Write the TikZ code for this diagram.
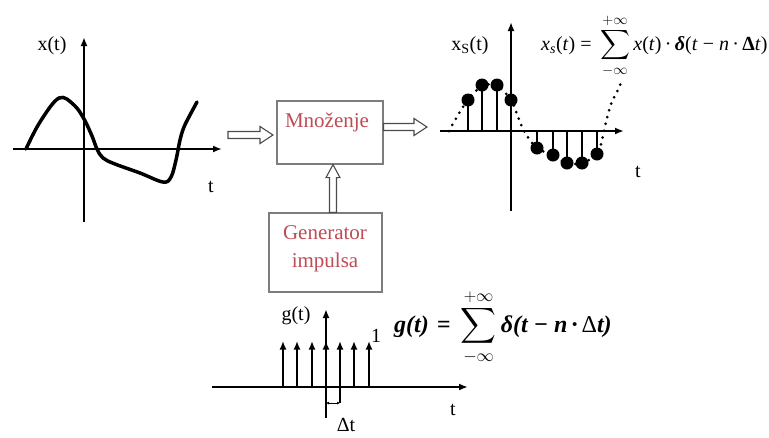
\documentclass[tikz,border=0pt]{standalone}
\usepackage{amsmath,bm}
\usepackage{fontspec}
\setmainfont{Liberation Serif}
\usetikzlibrary{arrows.meta,calc}
\definecolor{boxred}{RGB}{190,75,85}
\definecolor{boxgray}{RGB}{125,125,125}
\begin{document}
\begin{tikzpicture}[x=1pt,y=-1pt,
  axis/.style={line width=2.4pt,-{Latex[length=9pt,width=7pt]}},
  lbl/.style={font=\fontsize{20}{22}\selectfont, inner sep=0pt},
  blk/.style={draw=boxgray,line width=1.3pt},
  blktxt/.style={text=boxred, font=\fontsize{21}{28}\selectfont, align=center, inner sep=0pt},
  hollow/.style={draw=black!70,line width=1.1pt,fill=white},
  curve/.style={line width=3.5pt,line cap=round,line join=round},
  stem/.style={line width=2.6pt},
  sdot/.style={circle,fill=black,inner sep=0pt,minimum size=13pt},
  imp/.style={line width=2.2pt,-{Latex[length=8.5pt,width=7pt]}},
  dotline/.style={line width=3pt,line cap=round,dash pattern=on 0pt off 7pt},
  formula/.style={inner sep=0pt,anchor=west}
]
\useasboundingbox (0,0) rectangle (769,437);

% ---------- left graph x(t)
\coordinate (a1w) at (13,149);
\coordinate (a1e) at (222,149);
\coordinate (a1s) at (84,222);
\coordinate (a1n) at (84,37);
\draw[axis] (a1w) -- (a1e);
\draw[axis] (a1s) -- (a1n);
\node[lbl] (xlab) at (52,46) {x(t)};
\node[lbl] (tlab1) at (211,187) {t};
\draw[curve] plot[smooth,tension=0.6] coordinates {(26,149) (40,122) (59,98) (74,105) (84,119) (92,136) (97,149) (103,158) (115,164) (140,173) (163,182) (171,177) (176,160) (180,140) (184,127) (190,115) (197,102)};

% ---------- blocks
\node[blk,minimum width=106pt,minimum height=63pt] (mult) at (330,132.5) {};
\node[blktxt] (multtxt) at (327,122) {Množenje};
\node[blk,minimum width=113pt,minimum height=79pt] (gen) at (325.5,252.5) {};
\node[blktxt] (gentxt) at (325,249) {Generator\\impulsa};

% ---------- hollow arrows
\coordinate (inA) at (228,135);
\coordinate (inB) at (273,135);
\draw[hollow] ($(inA)+(0,-3.5)$) -- ($(inB)+(-13,-3.5)$) -- ($(inB)+(-13,-8.5)$) -- (inB) -- ($(inB)+(-13,8.5)$) -- ($(inB)+(-13,3.5)$) -- ($(inA)+(0,3.5)$) -- cycle;
\coordinate (outA) at ($(mult.east |- 0,127)$);
\coordinate (outB) at (427,127);
\draw[hollow] ($(outA)+(0,-3.5)$) -- ($(outB)+(-13,-3.5)$) -- ($(outB)+(-13,-8.5)$) -- (outB) -- ($(outB)+(-13,8.5)$) -- ($(outB)+(-13,3.5)$) -- ($(outA)+(0,3.5)$) -- cycle;
\coordinate (upA) at ($(gen.north)+(7.5,0)$);
\coordinate (upB) at ($(mult.south)+(3,0)$);
\draw[hollow] ($(upA)+(-3.5,0)$) -- ($(upB)+(-3.5,13)$) -- ($(upB)+(-7,13)$) -- (upB) -- ($(upB)+(7,13)$) -- ($(upB)+(3.5,13)$) -- ($(upA)+(3.5,0)$) -- cycle;

% ---------- right graph x_s(t)
\coordinate (a2w) at (440,131);
\coordinate (a2e) at (624,131);
\coordinate (a2s) at (511,211);
\coordinate (a2n) at (511,22);
\draw[dotline] plot[smooth,tension=0.6] coordinates {(449,131) (458,115) (468,100) (482,86) (497,86) (511,100) (518,117) (524,131) (530,140) (537,148) (553,156) (567,163) (582,163) (597,154) (602,140) (606,122) (611,104) (617,92) (622,80)};
\draw[axis] (a2w) -- (a2e);
\draw[axis] (a2s) -- (a2n);
\foreach \i/\x/\y in {1/468/100,2/482/85,3/497/85,4/511/100,5/537/148,6/553/155,7/567/163,8/582/163,9/597/154}{
  \coordinate (b\i) at (\x,131);
  \node[sdot] (s\i) at (\x,\y) {};
  \draw[stem] (b\i) -- (s\i.center);
}
\node[lbl] (xslab) at (470,46) {x\textsubscript{S}(t)};
\node[lbl] (tlab2) at (638,172) {t};
\node[formula] (f1) at (541,46) {\fontsize{20}{24}\selectfont$\displaystyle \text{\textit{x}\textsubscript{\textit{s}}(\textit{t}) = }\sum_{-\infty}^{+\infty}\text{\textit{x}(\textit{t})\,·\,\textbf{\textit{δ}}(\textit{t} − \textit{n}\,·\,\textbf{Δ}\textit{t})}$};

% ---------- bottom graph g(t)
\coordinate (a3w) at (212,387);
\coordinate (a3e) at (468,387);
\coordinate (a3s) at (326,418);
\coordinate (a3n) at (326,309);
\draw[axis] (a3w) -- (a3e);
\draw[axis] (a3s) -- (a3n);
\foreach \i/\x in {1/283,2/297,3/312,4/326,5/340,6/354,7/369}{
  \coordinate (ib\i) at (\x,387);
  \coordinate (it\i) at (\x,341);
  \draw[imp] (ib\i) -- (it\i);
}
\coordinate (dtb) at (340,403);
\draw[line width=1.3pt] (ib5) -- (dtb);
\coordinate (dta) at (326,403);
\draw[line width=1pt,{Latex[length=3pt,width=3pt]}-{Latex[length=3pt,width=3pt]}] (dta) -- (dtb);
\node[lbl] (glab) at (296,316) {g(t)};
\node[lbl] (one) at (376,336) {1};
\node[lbl] (tlab3) at (453,410) {t};
\node[lbl] (dtlab) at (346,425) {Δt};
\node[formula] (f2) at (394,327) {\fontsize{24}{28}\selectfont$\displaystyle \text{\bfseries\itshape g(t)\,\,= }\sum_{-\infty}^{+\infty}\text{\bfseries\itshape δ(t − n\,·\,\textup{\mdseries Δ}t)}$};
\end{tikzpicture}
\end{document}
